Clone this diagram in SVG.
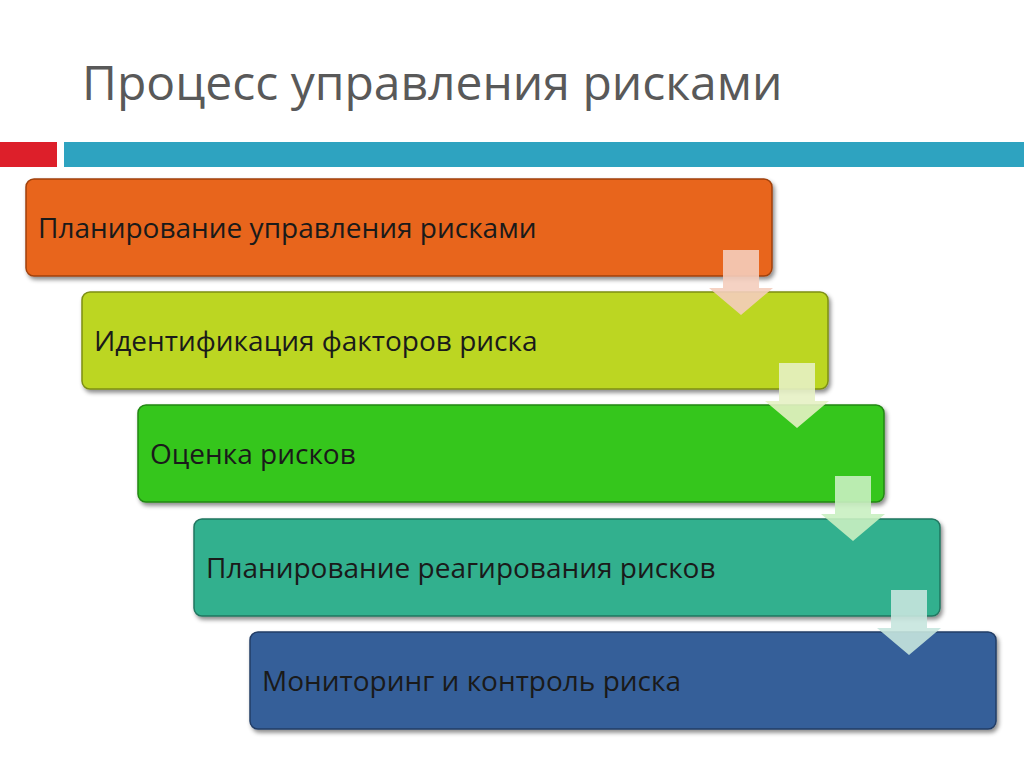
<svg xmlns="http://www.w3.org/2000/svg" width="1024" height="767" viewBox="0 0 1024 767">
<defs>
<style>
.t{font-family:"Open Sans","Liberation Sans",sans-serif;font-size:28px;fill:#1a1a1a}
.b{stroke-width:1.5}
</style>
<filter id="s" x="-5%" y="-10%" width="110%" height="130%"><feDropShadow dx="2" dy="3" stdDeviation="2" flood-opacity="0.45"/></filter>
<path id="ar" d="M-18,0 H18 V38 H32 L0,65 L-32,38 H-18 Z"/>
</defs>
<rect width="1024" height="767" fill="#fff"/>
<text x="82" y="100" font-family="'Open Sans','Liberation Sans',sans-serif" font-size="48" fill="#595959">Процесс управления рисками</text>
<rect x="0" y="142" width="57" height="25" fill="#dd1f2a"/>
<rect x="64" y="142" width="960" height="25" fill="#2ea3c0"/>
<g id="n1"><rect x="26" y="179" width="746" height="97" rx="8" fill="#e8651c" stroke="#a0420e" class="b" filter="url(#s)"/><text class="t" x="38" y="238">Планирование управления рисками</text></g>
<g id="n2"><rect x="82" y="292" width="746" height="97" rx="8" fill="#bcd622" stroke="#7d8f15" class="b" filter="url(#s)"/><text class="t" x="94" y="351">Идентификация факторов риска</text></g>
<g id="n3"><rect x="138" y="405" width="746" height="97" rx="8" fill="#34c61c" stroke="#238613" class="b" filter="url(#s)"/><text class="t" x="150" y="464">Оценка рисков</text></g>
<g id="n4"><rect x="194" y="519" width="746" height="97" rx="8" fill="#32b08e" stroke="#217660" class="b" filter="url(#s)"/><text class="t" x="206" y="578">Планирование реагирования рисков</text></g>
<g id="n5"><rect x="250" y="632" width="746" height="97" rx="8" fill="#355f99" stroke="#213d66" class="b" filter="url(#s)"/><text class="t" x="262" y="691">Мониторинг и контроль риска</text></g>
<g id="connectors">
<use href="#ar" x="741" y="250" fill="#f4cdbd" opacity="0.9"/>
<use href="#ar" x="797" y="363" fill="#e6f1c4" opacity="0.9"/>
<use href="#ar" x="853" y="476" fill="#c9efc1" opacity="0.9"/>
<use href="#ar" x="909" y="590" fill="#c6e6de" opacity="0.9"/>
</g>
</svg>
